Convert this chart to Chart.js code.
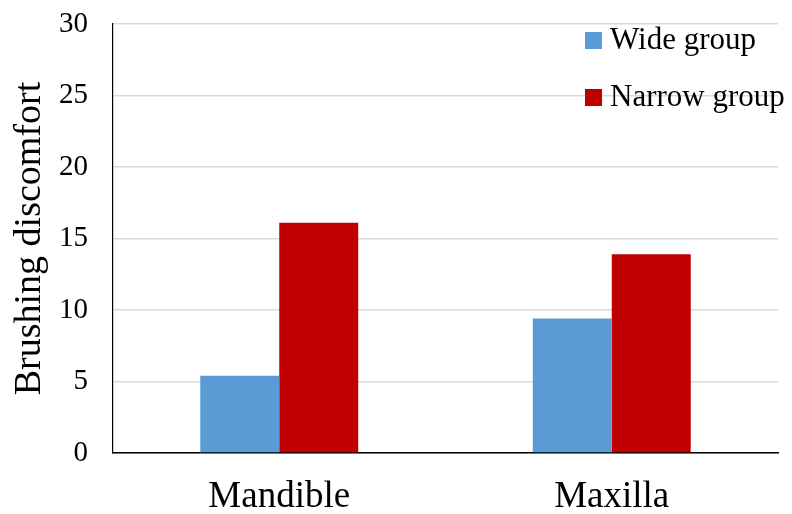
<!DOCTYPE html>
<html>
<head>
<meta charset="utf-8">
<script src="https://cdn.jsdelivr.net/npm/chart.js@4.4.1/dist/chart.umd.min.js"></script>
<style>
  html, body { margin: 0; padding: 0; background: #fff; }
  #wrap { width: 792px; height: 514px; }
</style>
</head>
<body>
<div id="wrap"><canvas id="barChart" width="792" height="514"></canvas></div>
<script>
// -- data --
const categories = ["Mandible", "Maxilla"];
const wideGroup = [5.4, 9.4];
const narrowGroup = [16.1, 13.9];
const seriesNames = ["Wide group", "Narrow group"];
const yTicks = [0, 5, 10, 15, 20, 25, 30];

const FONT = "'Liberation Serif', 'Times New Roman', serif";

// -- legend drawn in the upper right of the plot area --
const cornerLegend = {
    id: "cornerLegend",
    afterDraw(chart) {
        const ctx = chart.ctx;
        const area = chart.chartArea;
        const x0 = area.right - 193;
        ctx.save();
        ctx.font = "31px " + FONT;
        ctx.textBaseline = "middle";
        ctx.textAlign = "left";
        chart.data.datasets.forEach((ds, i) => {
            const cy = area.top + 16 + i * 57;
            ctx.fillStyle = ds.backgroundColor;
            ctx.fillRect(x0, cy - 8, 17, 17);
            ctx.fillStyle = "#000";
            ctx.fillText(ds.label, x0 + 25, cy + 1);
        });
        ctx.restore();
    }
};

const ctx = document.getElementById("barChart").getContext("2d");
new Chart(ctx, {
    type: "bar",
    data: {
        labels: categories,
        datasets: [
            {
                label: seriesNames[0],
                data: wideGroup,
                backgroundColor: "#5b9bd5",
                categoryPercentage: 0.475,
                barPercentage: 1.0
            },
            {
                label: seriesNames[1],
                data: narrowGroup,
                backgroundColor: "#c00000",
                categoryPercentage: 0.475,
                barPercentage: 1.0
            }
        ]
    },
    options: {
        responsive: false,
        animation: false,
        layout: { padding: { top: 24, right: 14, left: 0, bottom: 0 } },
        plugins: {
            legend: { display: false },
            tooltip: { enabled: false }
        },
        scales: {
            x: {
                grid: { display: false, drawTicks: false },
                border: { color: "#000", width: 1.5 },
                ticks: { color: "#000", font: { family: FONT, size: 37 }, padding: 22 },
                afterFit(scale) { scale.height = 61; }
            },
            y: {
                min: 0,
                max: 30,
                afterBuildTicks(scale) { scale.ticks = yTicks.map(v => ({ value: v })); },
                grid: { color: "#d9d9d9", lineWidth: 1.5, drawTicks: false },
                border: { color: "#000", width: 1.2 },
                ticks: { color: "#000", font: { family: FONT, size: 29 }, padding: 25 },
                title: {
                    display: true,
                    text: "Brushing discomfort",
                    color: "#000",
                    font: { family: FONT, size: 38 },
                    padding: { top: 7, bottom: 0 }
                },
                afterFit(scale) {
                    scale.width = 113;
                    scale.paddingTop = 0;
                    scale.paddingBottom = 0;
                }
            }
        }
    },
    plugins: [cornerLegend]
});
</script>
</body>
</html>
